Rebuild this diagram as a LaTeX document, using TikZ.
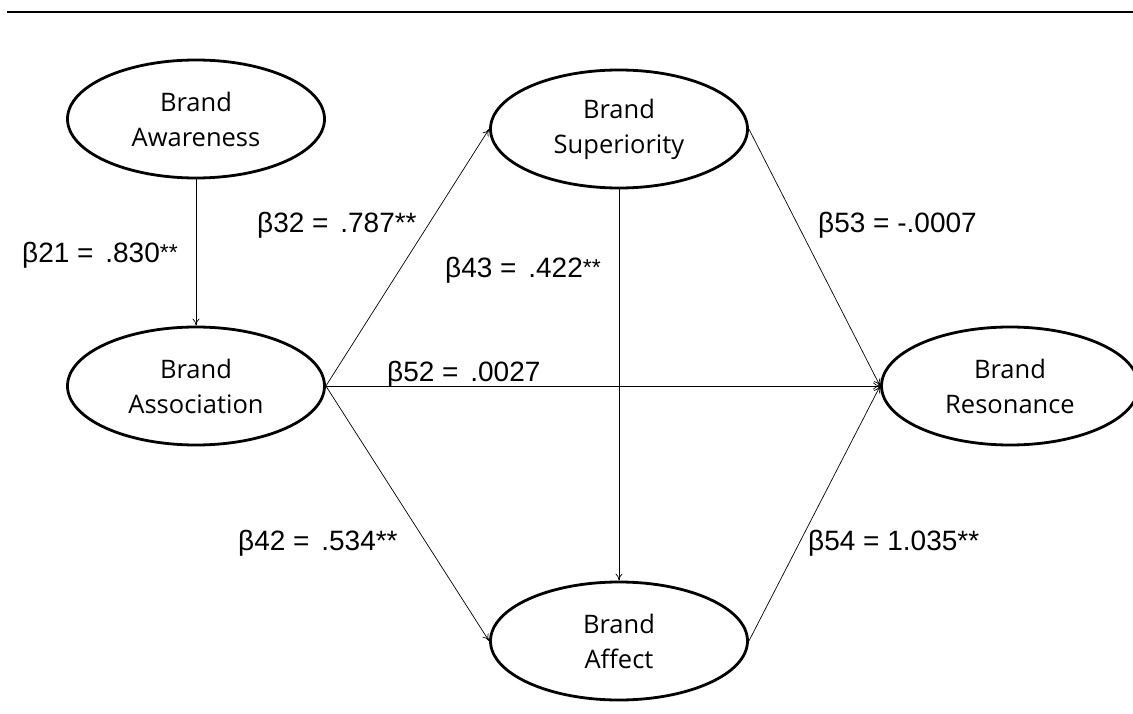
\documentclass[tikz,border=0pt]{standalone}
\usepackage{fontspec}
\setmainfont{Liberation Sans}
\newfontfamily\ovalfont{Open Sans}
\usetikzlibrary{arrows.meta,shapes.geometric}
\newcommand{\ovalline}{2.8pt}
\newcommand{\sstar}{\raisebox{2pt}{\fontsize{23}{23}\selectfont **}}
\newcommand{\gap}{\hspace{4pt}}
\tikzset{
  oval/.style={draw, ellipse, line width=\ovalline, minimum width=257pt, minimum height=118pt,
    inner sep=0pt, align=center, font=\ovalfont\fontsize{25.5}{35}\selectfont},
  link/.style={draw, line width=0.7pt, -{To[length=7pt,width=7pt]}},
  beta/.style={inner sep=0pt, anchor=base west, font=\fontsize{28}{32}\selectfont}
}

\begin{document}
\begin{tikzpicture}[x=1pt,y=-1pt]
\useasboundingbox (0,0) rectangle (1133,714);
\draw[line width=2.6pt] (7,12) -- (1140,12);
%constructs
\node[oval] (1) at (196,119) {Brand\\Awareness};
\node[oval] (2) at (196,386) {Brand\\Association};
\node[oval] (3) at (619,129) {Brand\\Superiority};
\node[oval] (4) at (619,641) {Brand\\Affect};
\node[oval] (5) at (1010,386) {Brand\\Resonance};
%paths
\draw[link] (1.south) -- (2.north);
\draw[link] (2.east) -- (3.west);
\draw[link] (2.east) -- (4.west);
\draw[link] (2.east) -- (5.west);
\draw[link] (3.south) -- (4.north);
\draw[link] (3.east) -- (5.west);
\draw[link] (4.east) -- (5.west);
%coefficients
\node[beta] (b21) at (22,263) {β21 = \gap.830\sstar};
\node[beta] (b32) at (257,233) {β32 = \gap.787**};
\node[beta] (b43) at (445,278) {β43 = \gap.422\sstar};
\node[beta] (b53) at (818,233) {β53 = -.0007};
\node[beta] (b52) at (387,381) {β52 = \gap.0027};
\node[beta] (b42) at (238,550) {β42 = \gap.534**};
\node[beta] (b54) at (808,550) {β54 = 1.035**};
\end{tikzpicture}
\end{document}
